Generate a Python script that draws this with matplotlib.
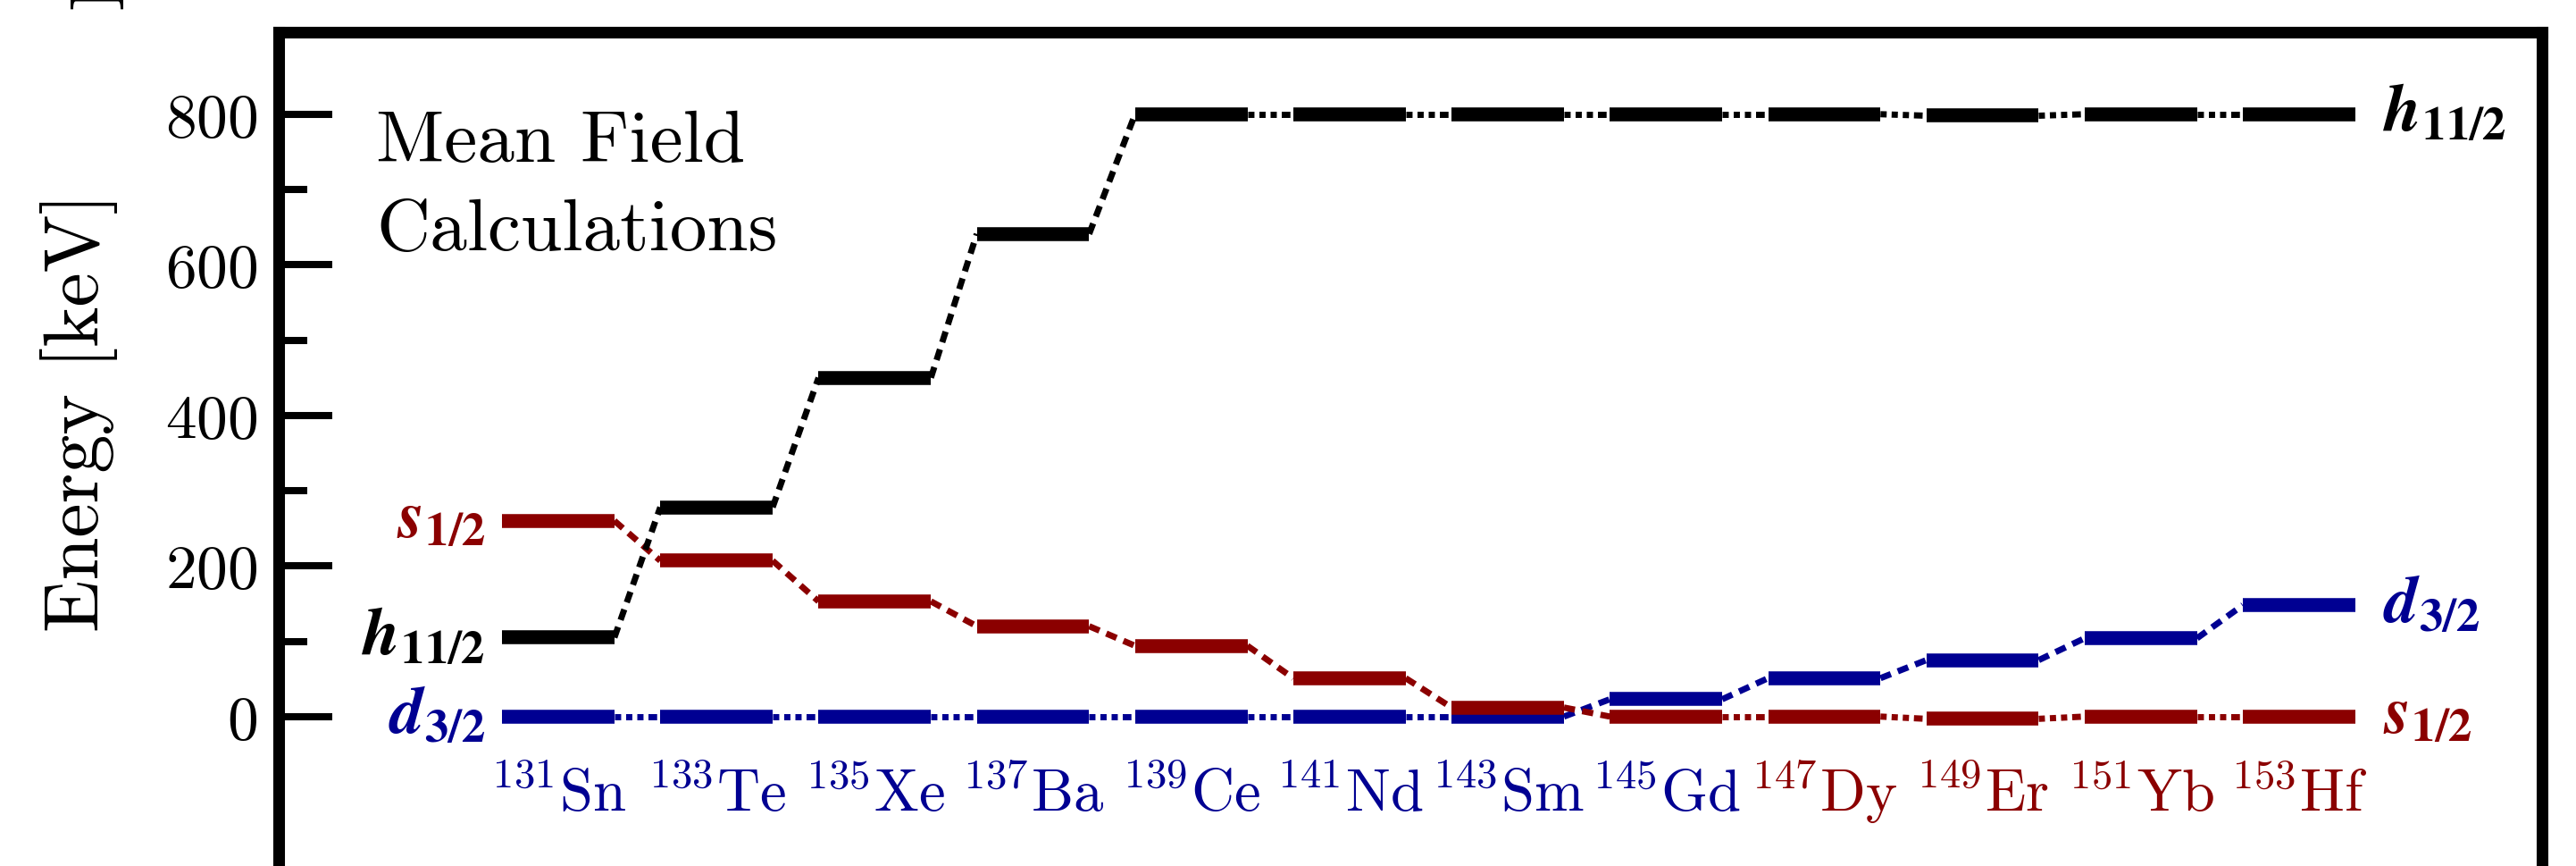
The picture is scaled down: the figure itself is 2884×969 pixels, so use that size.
import numpy as np
import matplotlib.pyplot as plt

plt.rcParams['font.family'] = 'serif'
plt.rcParams['font.serif'] = ['cmr10']
plt.rcParams['mathtext.fontset'] = 'cm'
plt.rcParams['axes.formatter.use_mathtext'] = True

# nuclei (mass number, element) and their experimental ground state
mass = [131, 133, 135, 137, 139, 141, 143, 145, 147, 149, 151, 153]
element = ['Sn', 'Te', 'Xe', 'Ba', 'Ce', 'Nd', 'Sm', 'Gd', 'Dy', 'Er', 'Yb', 'Hf']
ground_state = ['d', 'd', 'd', 'd', 'd', 'd', 'd', 'd', 's', 's', 's', 's']

# single-particle level energies [keV]
h11 = [105, 278, 450, 641, 800, 800, 800, 800, 800, 798, 800, 800]
s12 = [260, 207, 153, 120, 94, 51, 12, 0, 0, -3, 0, 0]
d32 = [0, 0, 0, 0, 0, 0, 0, 23, 51, 75, 104, 148]

BLUE = '#000092'
RED = '#8b0000'
BLACK = 'black'

levels = [
    (d32, BLUE, r'$\mathbfit{d}_{\mathbf{3/2}}$'),
    (s12, RED, r'$\mathbfit{s}_{\mathbf{1/2}}$'),
    (h11, BLACK, r'$\mathbfit{h}_{\mathbf{11/2}}$'),
]

fig = plt.figure(figsize=(14.42, 4.85), dpi=200)
ax = fig.add_axes([0.1082, -0.0882, 0.8786, 1.0501])

x = np.arange(len(mass))
hw = 0.355  # half width of a level bar

for vals, col, lab in levels:
    for i in range(len(x)):
        ax.plot([x[i] - hw, x[i] + hw], [vals[i], vals[i]], color=col, lw=5.6,
                solid_capstyle='butt', zorder=3)
    for i in range(len(x) - 1):
        if abs(vals[i + 1] - vals[i]) <= 5:
            ls = (0.4, (1.4, 0.8, 1.0, 0.8, 1.0, 0.8))
        else:
            ls = (0, (1.8, 1.2))
        ax.plot([x[i] + hw, x[i + 1] - hw], [vals[i], vals[i + 1]], color=col,
                lw=2.5, ls=ls, dash_capstyle='butt', zorder=2)
    ax.text(x[0] - 0.46, vals[0], lab, color=col, fontsize=27, ha='right', va='center',
            math_fontfamily='stix')
    ax.text(x[-1] + 0.53, vals[-1], lab, color=col, fontsize=27, ha='left', va='center',
            math_fontfamily='stix')

for i in range(len(x)):
    col = BLUE if ground_state[i] == 'd' else RED
    ax.text(x[i], -125, r'$^{%d}\mathrm{%s}$' % (mass[i], element[i]), color=col,
            fontsize=24, ha='center', va='baseline')

ax.text(-1.15, 621, 'Mean Field\nCalculations', fontsize=30, linespacing=1.45,
        ha='left', va='baseline')

ax.set_xlim(-1.766, 12.535)
ax.set_ylim(-300, 909)
ax.set_xticks([])
ax.set_yticks([0, 200, 400, 600, 800])
ax.set_yticks([100, 300, 500, 700], minor=True)
ax.tick_params(axis='y', which='major', direction='in', length=21.6, width=2.9,
               pad=8.5, labelsize=25)
ax.tick_params(axis='y', which='minor', direction='in', length=11.6, width=2.9)
for sp in ax.spines.values():
    sp.set_linewidth(4.7)

ax.set_ylabel('Energy [keV]', fontsize=31)
ax.yaxis.set_label_coords(-0.071, 0.583)

# bottom of the y label of the panel above, cut by the figure edge
fig.text(0.0558, 0.9876, 'Energy [keV]', fontsize=31, rotation=90, ha='right', va='bottom')

fig.savefig('out.png', dpi=200)
